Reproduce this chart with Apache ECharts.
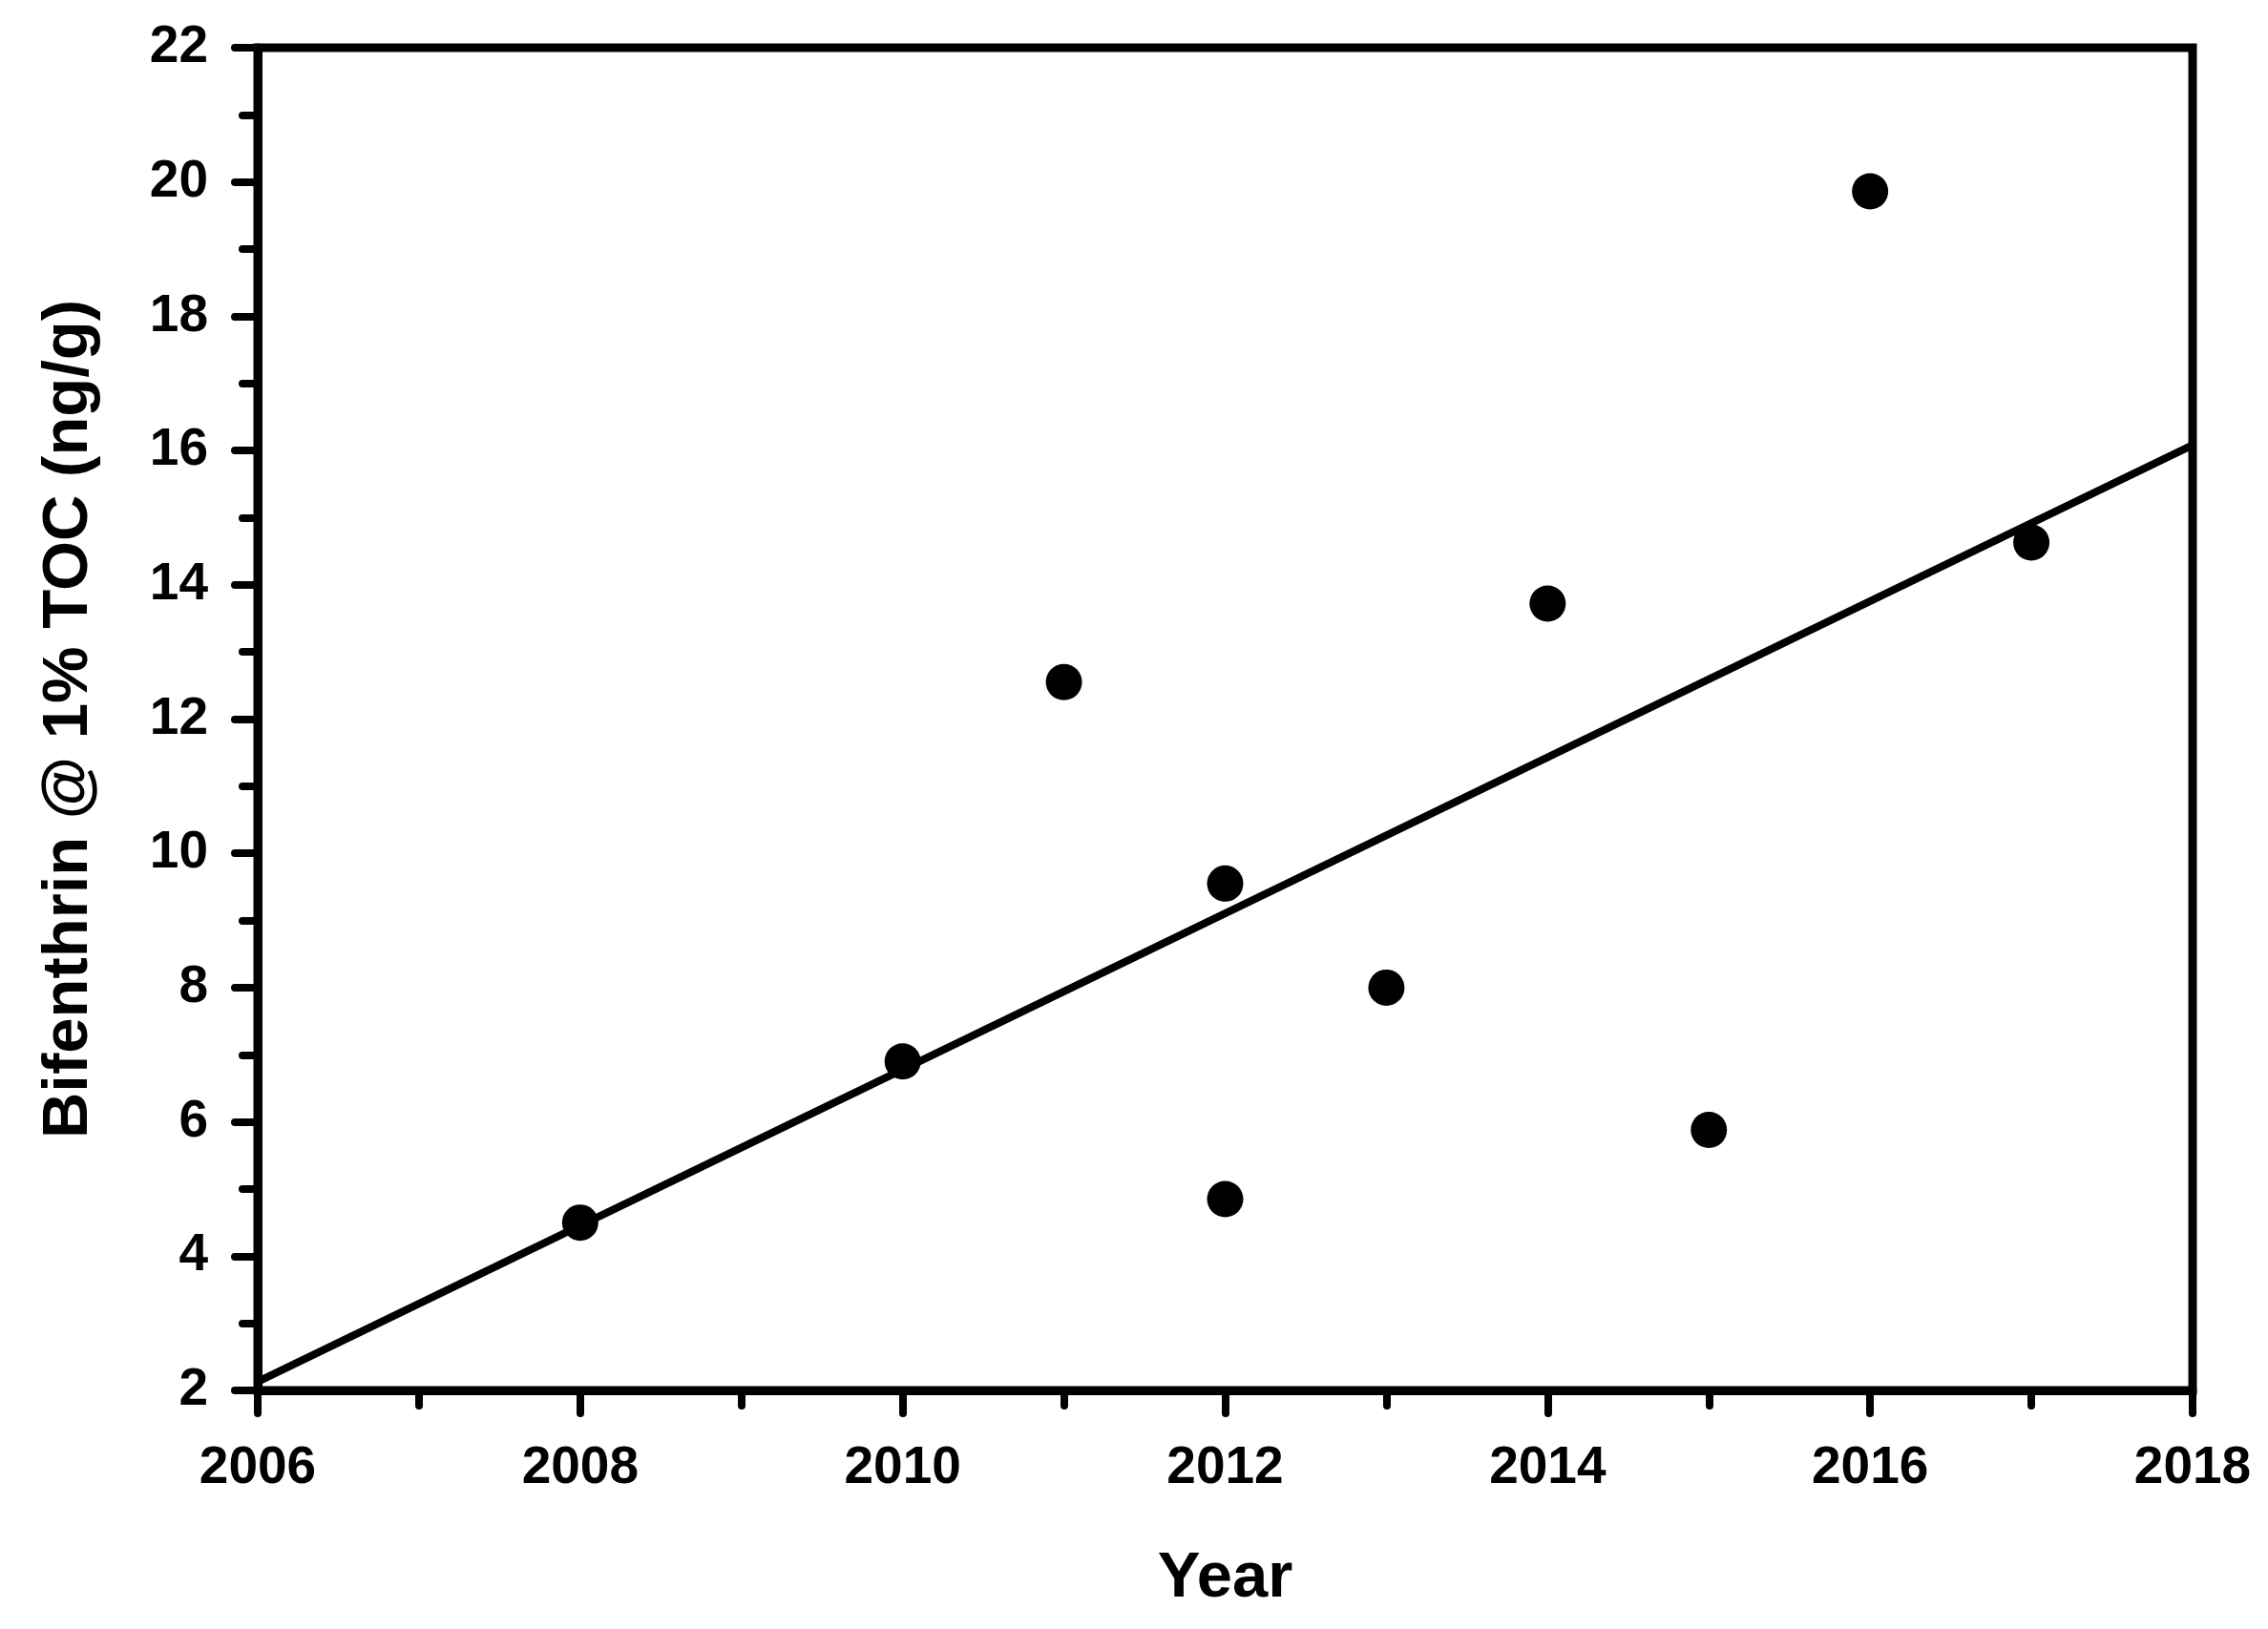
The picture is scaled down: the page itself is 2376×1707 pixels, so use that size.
<!DOCTYPE html>
<html>
<head>
<meta charset="utf-8">
<script src="https://cdn.jsdelivr.net/npm/echarts@6/dist/echarts.min.js"></script>
<style>
  html, body { margin: 0; padding: 0; background: #fff; }
  #chart { width: 2376px; height: 1707px; }
</style>
</head>
<body>
<div id="chart"></div>
<script>
// measured points (year, bifenthrin ng/g @ 1% TOC)
const years = [2008, 2010, 2011, 2012, 2012, 2013, 2014, 2015, 2016, 2017]
const values = [4.5, 6.9, 12.55, 9.55, 4.85, 8.0, 13.72, 5.88, 19.86, 14.63]
// fitted trend line, end points
const trendYears = [2006, 2018]
const trendValues = [2.13, 16.08]

const FONT = '"Liberation Sans", Arial, sans-serif'

const chart = echarts.init(document.getElementById('chart'), null, { renderer: 'canvas' })

const axisCommon = {
  type: 'value',
  interval: 2,
  nameLocation: 'middle',
  nameTextStyle: { fontFamily: FONT, fontWeight: 'bold', fontSize: 67, color: '#000' },
  axisLine: { show: true, lineStyle: { color: '#000', width: 9 } },
  axisTick: { show: true, inside: false, length: 24, lineStyle: { color: '#000', width: 8, cap: 'round' } },
  minorTick: { show: true, splitNumber: 2, length: 16, lineStyle: { color: '#000', width: 8, cap: 'round' } },
  splitLine: { show: false },
  axisLabel: {
    fontFamily: FONT, fontWeight: 'bold', fontSize: 55, color: '#000',
    formatter: (v) => String(v) // no thousands separator on years
  }
}

const option = {
  backgroundColor: '#fff',
  animation: false,
  grid: {
    left: 270,
    top: 50,
    width: 2027,
    height: 1407,
    show: true,
    borderColor: '#000',
    borderWidth: 9,
    backgroundColor: 'transparent'
  },
  xAxis: Object.assign({}, axisCommon, {
    min: 2006,
    max: 2018,
    name: 'Year',
    nameGap: 164,
    axisLabel: Object.assign({}, axisCommon.axisLabel, { margin: 54 })
  }),
  yAxis: Object.assign({}, axisCommon, {
    min: 2,
    max: 22,
    name: 'Bifenthrin @ 1% TOC (ng/g)',
    nameGap: 164,
    nameRotate: 90,
    axisLabel: Object.assign({}, axisCommon.axisLabel, { margin: 52 })
  }),
  series: [
    {
      name: 'trend',
      type: 'line',
      data: trendYears.map((x, i) => [x, trendValues[i]]),
      symbol: 'none',
      clip: true,
      lineStyle: { color: '#000', width: 8 },
      z: 2
    },
    {
      name: 'Bifenthrin',
      type: 'scatter',
      data: years.map((x, i) => [x, values[i]]),
      symbol: 'circle',
      symbolSize: 38,
      itemStyle: { color: '#000', opacity: 1 },
      z: 3
    }
  ]
}

chart.setOption(option)
</script>
</body>
</html>
